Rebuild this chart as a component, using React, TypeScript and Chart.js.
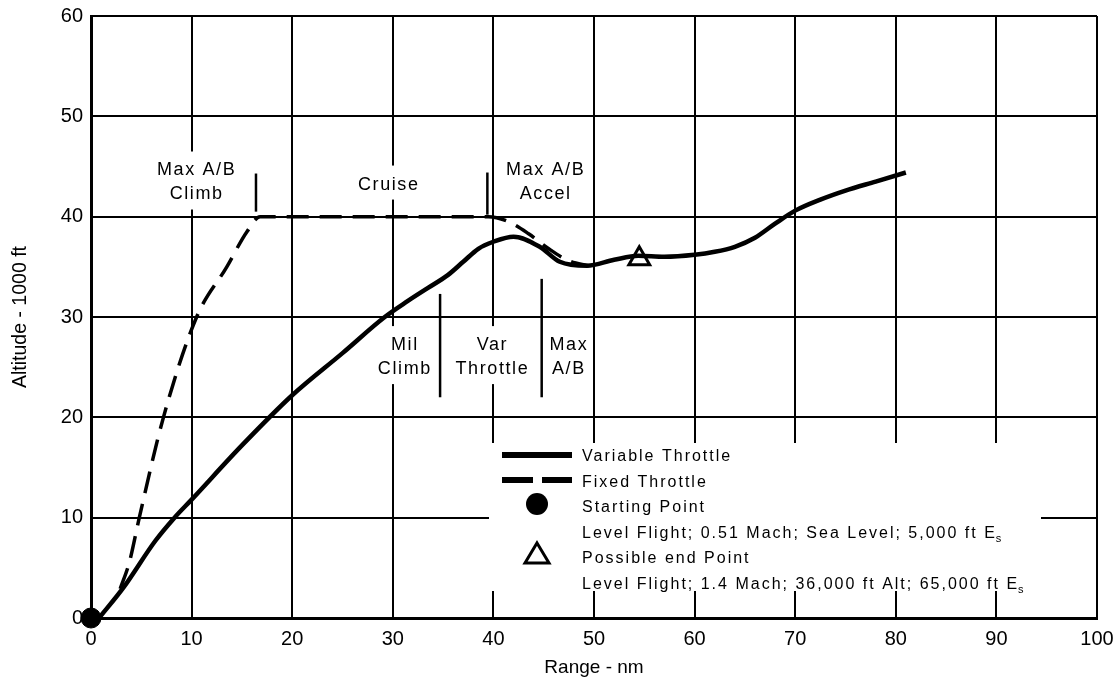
import { useEffect, useRef } from 'react';
import { Chart, registerables } from 'chart.js';

Chart.register(...registerables);

// Range (nm) and altitude (1000 ft) along the variable-throttle path
const variableRange = [0.8, 3.2, 6.4, 8.3, 10, 15, 20, 25, 29.2, 31.5, 33.5, 35.5, 37, 38.5, 40, 42, 44.6, 46.6, 49.3, 52, 54.4, 57, 60, 62, 64, 66, 68, 70, 72.5, 75, 78, 81];
const variableAlt = [0, 3.0, 7.7, 10, 11.8, 17.2, 22.2, 26.4, 30, 31.6, 32.9, 34.2, 35.5, 36.8, 37.5, 38, 37, 35.5, 35.1, 35.7, 36.1, 36.0, 36.2, 36.5, 37.0, 37.9, 39.3, 40.6, 41.7, 42.6, 43.5, 44.4];

// Fixed-throttle path: max A/B climb, cruise at 40,000 ft, then accel
const fixedRange = [2.9, 3.8, 4.8, 7.2, 10.5, 13.5, 15.5, 16.8, 20, 25, 30, 35, 39.5, 41.5, 43.5, 45.5, 47.5, 49.5];
const fixedAlt = [2.9, 5.5, 10, 20, 30, 35, 38.5, 40, 40, 40, 40, 40, 40, 39.5, 38.3, 36.8, 35.6, 35.1];

const startPoint = { x: 0, y: 0 };
const endPoint = { x: 54.5, y: 35.8 };

const xMin = 0;
const xMax = 100;
const yMin = 0;
const yMax = 60;
const tickStep = 10;

// Flight phase labels (lines of text, centre position in data units)
const phaseText = [
  ['Max A/B', 'Climb'],
  ['Cruise'],
  ['Max A/B', 'Accel'],
  ['Mil', 'Climb'],
  ['Var', 'Throttle'],
  ['Max', 'A/B'],
];
const phaseTextX = [10.5, 29.6, 45.2, 31.2, 39.9, 47.5];
const phaseTextY = [44.6, 43.2, 44.6, 27.2, 27.2, 27.2];

// Short vertical phase boundary marks
const markX = [16.4, 39.4, 34.7, 44.8];
const markTop = [44.3, 44.4, 32.3, 33.8];
const markBottom = [40.5, 40.2, 22.0, 22.0];

const legendLabels = [
  'Variable Throttle',
  'Fixed Throttle',
  'Starting Point',
  'Level Flight; 0.51 Mach; Sea Level; 5,000 ft E',
  'Possible end Point',
  'Level Flight; 1.4 Mach; 36,000 ft Alt; 65,000 ft E',
];

const FONT = "'Liberation Sans', Arial, Helvetica, sans-serif";

// White label backgrounds sit above the grid but below the curves
const labelBackPlugin = {
  id: 'labelBacks',
  beforeDatasetsDraw(chart: any) {
    const { ctx } = chart;
    const xs = chart.scales.x;
    const ys = chart.scales.y;
    ctx.save();
    ctx.font = `18px ${FONT}`;
    (ctx as any).letterSpacing = '1.6px';
    ctx.fillStyle = '#fff';
    phaseText.forEach((lines, i) => {
      const px = xs.getPixelForValue(phaseTextX[i]);
      const py = ys.getPixelForValue(phaseTextY[i]);
      const w = Math.max(...lines.map((t) => ctx.measureText(t).width));
      const h = (lines.length - 1) * 24;
      ctx.fillRect(px - w / 2 - 4, py - 19, w + 8, h + 34);
    });
    (ctx as any).letterSpacing = '0px';
    ctx.restore();
  },
};

const annotationPlugin = {
  id: 'flightAnnotations',
  afterDatasetsDraw(chart: any) {
    const { ctx, chartArea } = chart;
    const xs = chart.scales.x;
    const ys = chart.scales.y;
    ctx.save();
    ctx.fillStyle = '#000';
    ctx.strokeStyle = '#000';

    // phase boundary marks
    ctx.lineWidth = 2.5;
    markX.forEach((mx, i) => {
      const px = xs.getPixelForValue(mx);
      ctx.beginPath();
      ctx.moveTo(px, ys.getPixelForValue(markTop[i]));
      ctx.lineTo(px, ys.getPixelForValue(markBottom[i]));
      ctx.stroke();
    });

    // phase labels
    ctx.font = `18px ${FONT}`;
    (ctx as any).letterSpacing = '1.6px';
    ctx.textAlign = 'center';
    ctx.textBaseline = 'middle';
    phaseText.forEach((lines, i) => {
      const px = xs.getPixelForValue(phaseTextX[i]);
      const py = ys.getPixelForValue(phaseTextY[i]);
      lines.forEach((t, j) => ctx.fillText(t, px, py + j * 24));
    });

    // legend panel
    const boxL = chartArea.left + 398;
    const boxT = chartArea.top + 427;
    ctx.fillStyle = '#fff';
    ctx.fillRect(boxL, boxT, 552, 148);
    ctx.fillStyle = '#000';

    const symX = boxL + 48;
    const textX = boxL + 93;
    const rowY = [455, 481, 506, 532, 557, 583].map((v) => v - 16 + chartArea.top);

    ctx.lineWidth = 6;
    ctx.beginPath();
    ctx.moveTo(symX - 35, rowY[0]);
    ctx.lineTo(symX + 35, rowY[0]);
    ctx.stroke();
    ctx.beginPath();
    ctx.moveTo(symX - 35, rowY[1] - 1);
    ctx.lineTo(symX - 4, rowY[1] - 1);
    ctx.moveTo(symX + 5, rowY[1] - 1);
    ctx.lineTo(symX + 35, rowY[1] - 1);
    ctx.stroke();
    ctx.beginPath();
    ctx.arc(symX, rowY[2] - 2, 11, 0, Math.PI * 2);
    ctx.fill();
    ctx.lineWidth = 3;
    ctx.lineJoin = 'miter';
    ctx.beginPath();
    ctx.moveTo(symX, rowY[4] - 14);
    ctx.lineTo(symX + 12, rowY[4] + 6);
    ctx.lineTo(symX - 12, rowY[4] + 6);
    ctx.closePath();
    ctx.stroke();

    ctx.font = `16px ${FONT}`;
    (ctx as any).letterSpacing = '2px';
    ctx.textAlign = 'left';
    legendLabels.forEach((t, i) => {
      const ty = rowY[i] + 2;
      ctx.fillText(t, textX, ty);
      if (i === 3 || i === 5) {
        const w = ctx.measureText(t).width;
        ctx.font = `11px ${FONT}`;
        ctx.fillText('s', textX + w - 1, ty + 5);
        ctx.font = `16px ${FONT}`;
      }
    });
    (ctx as any).letterSpacing = '0px';
    ctx.restore();
  },
};

export default function App() {
  const ref = useRef<HTMLCanvasElement>(null);

  useEffect(() => {
    const canvas = ref.current;
    if (!canvas) return;
    const variablePts = variableRange.map((x, i) => ({ x, y: variableAlt[i] }));
    const fixedPts = fixedRange.map((x, i) => ({ x, y: fixedAlt[i] }));

    const chart = new Chart(canvas, {
      type: 'line',
      data: {
        datasets: [
          {
            label: 'Variable Throttle',
            data: variablePts,
            borderColor: '#000',
            borderWidth: 4.5,
            pointRadius: 0,
            cubicInterpolationMode: 'monotone',
            fill: false,
          },
          {
            label: 'Fixed Throttle',
            data: fixedPts,
            borderColor: '#000',
            borderWidth: 3.5,
            borderDash: [22, 11],
            pointRadius: 0,
            cubicInterpolationMode: 'monotone',
            fill: false,
          },
          {
            type: 'scatter',
            label: 'Starting Point',
            data: [startPoint],
            pointRadius: 10,
            pointBackgroundColor: '#000',
            pointBorderColor: '#000',
            clip: false,
          } as any,
          {
            type: 'scatter',
            label: 'Possible end Point',
            data: [endPoint],
            pointStyle: 'triangle',
            pointRadius: 12,
            pointBackgroundColor: '#fff',
            pointBorderColor: '#000',
            pointBorderWidth: 3,
          } as any,
        ],
      },
      options: {
        responsive: false,
        animation: false,
        events: [],
        layout: { padding: { top: 16, right: 21, left: 0, bottom: 0 } },
        plugins: {
          legend: { display: false },
          tooltip: { enabled: false },
        },
        scales: {
          x: {
            type: 'linear',
            min: xMin,
            max: xMax,
            afterFit: (s: any) => {
              s.height = 69;
              s.paddingLeft = 0;
              s.paddingRight = 0;
            },
            ticks: {
              stepSize: tickStep,
              color: '#000',
              font: { family: FONT, size: 20 },
              padding: 9,
              maxRotation: 0,
              autoSkip: false,
            },
            grid: { color: '#000', lineWidth: 2, drawTicks: false },
            border: { color: '#000', width: 3 },
            title: {
              display: true,
              text: 'Range - nm',
              color: '#000',
              font: { family: FONT, size: 19 },
              padding: { top: 0, bottom: 8 },
            },
          },
          y: {
            type: 'linear',
            min: yMin,
            max: yMax,
            afterFit: (s: any) => {
              s.width = 91;
              s.paddingTop = 0;
              s.paddingBottom = 0;
            },
            ticks: {
              stepSize: tickStep,
              color: '#000',
              font: { family: FONT, size: 20 },
              padding: 8,
            },
            grid: { color: '#000', lineWidth: 2, drawTicks: false },
            border: { color: '#000', width: 3 },
            title: {
              display: true,
              text: 'Altitude - 1000 ft',
              color: '#000',
              font: { family: FONT, size: 19.5 },
              padding: { top: 9, bottom: 0 },
            },
          },
        },
      },
      plugins: [labelBackPlugin, annotationPlugin],
    } as any);

    return () => chart.destroy();
  }, []);

  return (
    <div style={{ position: 'fixed', left: 0, top: 0, width: 1118, height: 687, background: '#fff' }}>
      <canvas ref={ref} width={1118} height={687} />
    </div>
  );
}
